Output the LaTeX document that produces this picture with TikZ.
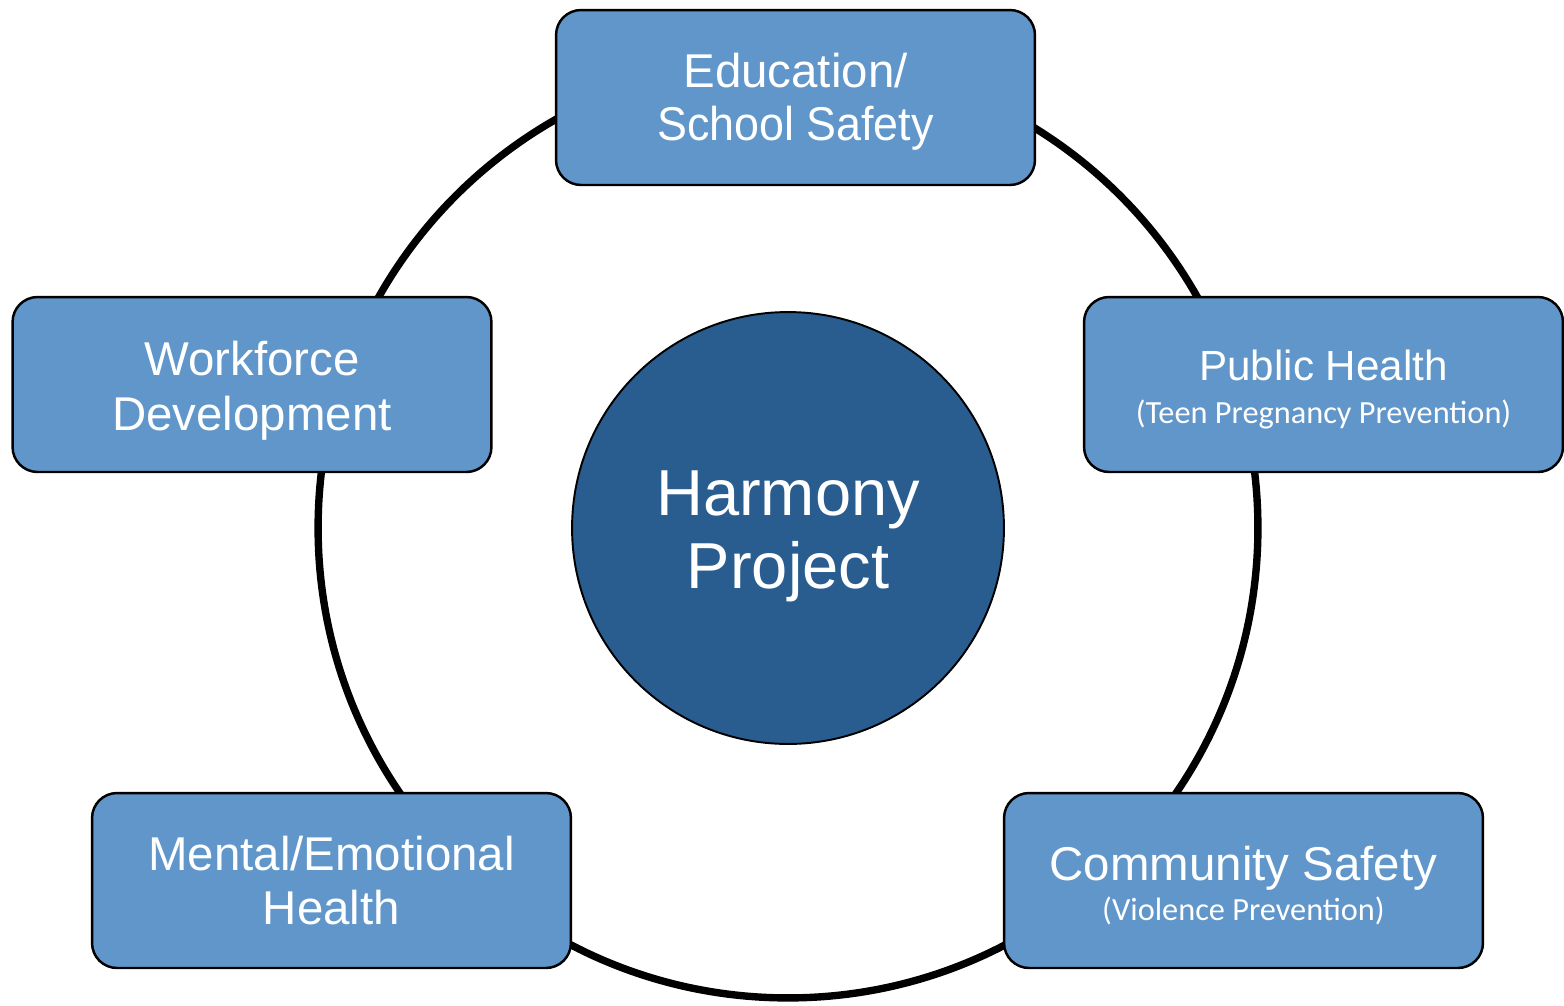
\documentclass[tikz,border=0pt]{standalone}
\usepackage{fontspec}
\setmainfont{Liberation Sans}
\newfontfamily\subfont{Carlito}
\usetikzlibrary{calc}

\definecolor{topicblue}{RGB}{96, 150, 201}
\definecolor{hubblue}{RGB}{41, 93, 143}

\begin{document}
\begin{tikzpicture}[x = 0.02cm, y = -0.02cm,
        topic/.style = {draw = black, line width = 1.4pt, fill = topicblue, rounded corners = 0.5cm,
            minimum width = 9.58cm, minimum height = 3.5cm},
        topic_text/.style = {align = center, text = white, font = \fontsize{27}{31}\selectfont},
        hub/.style = {draw = black, line width = 1.1pt, fill = hubblue, circle, minimum size = 8.64cm}]
            \useasboundingbox (0, 0) rectangle (1564, 1005);

            \coordinate (origin) at (788, 528);

            % ring behind the boxes
            \draw[black, line width = 4.2pt](origin) circle (9.4cm);

            \node[hub] (harmony) at (origin) {};
            \node[topic_text, font = \fontsize{37}{41.5}\selectfont] (harmony_text) at ($(harmony) + (0, 8)$) {Harmony\\Project};

            \node[topic] (education) at (795.5, 97.5) {};
            \node[topic] (workforce) at (252, 384.5) {};
            \node[topic] (public_health) at (1323.5, 384.5) {};
            \node[topic] (mental) at (331.5, 880.5) {};
            \node[topic] (community) at (1243.5, 880.5) {};

            \node[topic_text, font = \fontsize{27}{30}\selectfont] (education_text) at ($(education) + (0, 4)$) {Education/\\\scalebox{0.945}[1]{School Safety}};
            \node[topic_text] (workforce_text) at ($(workforce) + (0, 6)$) {Workforce\\Development};
            \node[topic_text, font = \fontsize{24}{24}\selectfont] (public_health_text) at ($(public_health) + (0, 5)$) {Public Health\\{\subfont\fontsize{18.4}{21}\selectfont (Teen Pregnancy Prevention)}};
            \node[topic_text] (mental_text) at (mental) {Mental/Emotional\\Health};
            \node[topic_text, font = \fontsize{27}{23}\selectfont] (community_text) at ($(community) + (0, 5)$) {Community Safety\\{\subfont\fontsize{18.4}{21}\selectfont (Violence Prevention)}};
        \end{tikzpicture}
\end{document}
